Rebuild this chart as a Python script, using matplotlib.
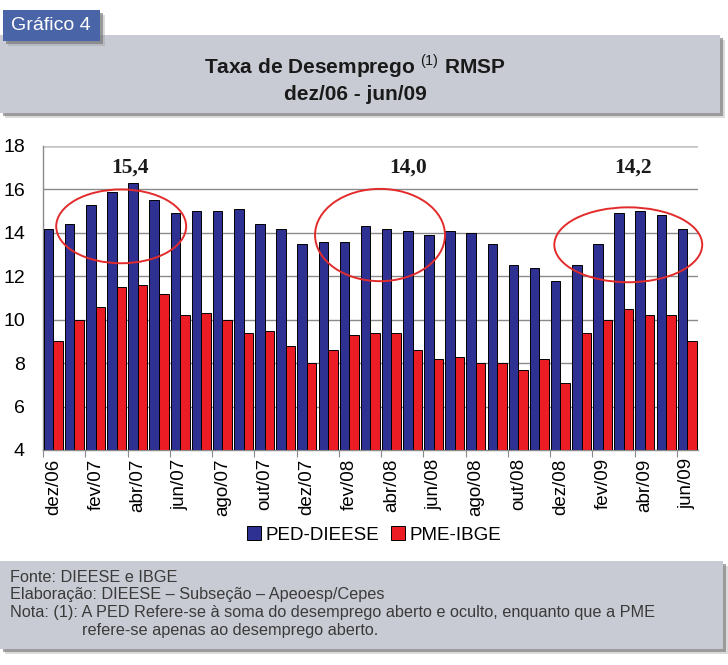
import matplotlib
matplotlib.use("Agg")
import matplotlib.pyplot as plt
from matplotlib.patches import Rectangle, Ellipse
import numpy as np

months = ["dez/06", "jan/07", "fev/07", "mar/07", "abr/07", "mai/07", "jun/07", "jul/07",
          "ago/07", "set/07", "out/07", "nov/07", "dez/07", "jan/08", "fev/08", "mar/08",
          "abr/08", "mai/08", "jun/08", "jul/08", "ago/08", "set/08", "out/08", "nov/08",
          "dez/08", "jan/09", "fev/09", "mar/09", "abr/09", "mai/09", "jun/09"]
ped_dieese = [14.2, 14.4, 15.3, 15.9, 16.3, 15.5, 14.9, 15.0, 15.0, 15.1, 14.4, 14.2, 13.5,
              13.6, 13.6, 14.3, 14.2, 14.1, 13.9, 14.1, 14.0, 13.5, 12.5, 12.4, 11.8, 12.5,
              13.5, 14.9, 15.0, 14.8, 14.2]
pme_ibge = [9.0, 10.0, 10.6, 11.5, 11.6, 11.2, 10.2, 10.3, 10.0, 9.4, 9.5, 8.8, 8.0, 8.6,
            9.3, 9.4, 9.4, 8.6, 8.2, 8.3, 8.0, 8.0, 7.7, 8.2, 7.1, 9.4, 10.0, 10.5, 10.2,
            10.2, 9.0]
series_names = ["PED-DIEESE", "PME-IBGE"]
highlight_labels = ["15,4", "14,0", "14,2"]
highlight_x = [3.6, 16.8, 27.4]
ellipse_x = [3.2, 15.45, 27.2]
ellipse_y = [14.3, 13.9, 13.45]
ellipse_w = [6.15, 6.15, 7.0]
ellipse_h = [3.4, 4.25, 3.45]

plt.rcParams["mathtext.fontset"] = "custom"
plt.rcParams["mathtext.rm"] = "Liberation Sans"
plt.rcParams["mathtext.bf"] = "Liberation Sans:bold"

W, H = 728, 665
fig = plt.figure(figsize=(W / 100, H / 100), dpi=100)
fig.patch.set_facecolor("white")

def fx(x):
    return x / W

def fy(y):
    return 1 - y / H

def rect_px(x0, y0, x1, y1, **kw):
    r = Rectangle((fx(x0), fy(y1)), fx(x1) - fx(x0), fy(y0) - fy(y1),
                  transform=fig.transFigure, **kw)
    fig.patches.append(r)
    return r

panel = "#c8cbd3"
shadows = [(5, "#9a9a9a", 0.35), (3, "#6f6f6f", 0.6)]
# header panel with shadow
for off, c, a in shadows:
    rect_px(0 + off, 35 + off, 720 + off, 113 + off, facecolor=c, edgecolor="none", alpha=a, zorder=0)
rect_px(0, 35, 720, 113, facecolor=panel, edgecolor="none", zorder=1)
# tab
for off, c, a in shadows:
    rect_px(3 + off, 10 + off, 100 + off, 41 + off, facecolor=c, edgecolor="none", alpha=a, zorder=2)
rect_px(3, 10, 100, 41, facecolor="#4a64a8", edgecolor="none", zorder=3)
fig.text(fx(51), fy(26), "Gráfico 4", color="white", fontsize=14, ha="center", va="center",
         family=["Liberation Sans", "DejaVu Sans"], zorder=4)

# footer panel with shadow
for off, c, a in shadows:
    rect_px(0 + off, 561 + off, 723 + off, 649 + off, facecolor=c, edgecolor="none", alpha=a, zorder=0)
rect_px(0, 561, 723, 649, facecolor=panel, edgecolor="none", zorder=1)

# title
title_font = ["Liberation Sans", "DejaVu Sans"]
fig.text(fx(355), fy(66), r"Taxa de Desemprego $^{\mathrm{(1)}}$ RMSP", fontsize=15, fontweight="bold",
         ha="center", va="center", family=title_font, color="#1a1a1a", zorder=4)
fig.text(fx(355), fy(94), "dez/06 - jun/09", fontsize=15, fontweight="bold",
         ha="center", va="center", family=title_font, color="#1a1a1a", zorder=4)

# footer text
foot_font = ["Liberation Sans", "DejaVu Sans"]
fc = "#3a3a3a"
fs = 11.7
fig.text(fx(10), fy(577), "Fonte: DIEESE e IBGE", fontsize=fs, ha="left", va="center", family=foot_font, color=fc)
fig.text(fx(10), fy(595), "Elaboração: DIEESE – Subseção – Apeoesp/Cepes", fontsize=fs, ha="left", va="center", family=foot_font, color=fc)
fig.text(fx(10), fy(613), "Nota: (1): A PED Refere-se à soma do desemprego aberto e oculto, enquanto que a PME",
         fontsize=fs, ha="left", va="center", family=foot_font, color=fc)
fig.text(fx(82), fy(631), "refere-se apenas ao desemprego aberto.", fontsize=fs, ha="left", va="center",
         family=foot_font, color=fc)

# chart axes
ax = fig.add_axes([fx(43), fy(450), fx(698) - fx(43), fy(146) - fy(450)])
ax.set_facecolor("none")
x = np.arange(len(months))
bw = 0.45
blue = "#2e3192"
red = "#ec1c24"
b1 = ax.bar(x - bw / 2 - 0.01, ped_dieese, width=bw, color=blue, edgecolor="black", linewidth=0.7,
            zorder=3, label=series_names[0])
b2 = ax.bar(x + bw / 2 - 0.01, pme_ibge, width=bw, color=red, edgecolor="black", linewidth=0.7,
            zorder=3, label=series_names[1])
ax.set_xlim(-0.5, len(months) - 0.5)
ax.set_ylim(4, 18)
ax.set_yticks(np.arange(4, 19, 2))
for v in np.arange(6, 17, 2):
    ax.axhline(v, color="#8a8a8a", linewidth=1.0, zorder=1)
ax.axhline(18, color="#c4c4c4", linewidth=1.8, zorder=1)

for s in ["top", "right"]:
    ax.spines[s].set_visible(False)
ax.spines["left"].set_color("#8a8a8a")
ax.spines["bottom"].set_color("#8a8a8a")
ax.spines["left"].set_linewidth(1.0)
ax.spines["bottom"].set_linewidth(1.0)

ax.set_xticks(np.arange(-0.5, len(months), 2))
ax.set_xticklabels([])
ax.tick_params(axis="x", which="major", length=5, color="#8a8a8a", direction="out")
ax.set_xticks(x[::2], minor=True)
ax.set_xticklabels(months[::2], minor=True, rotation=90, fontsize=13.5,
                   family=["Liberation Sans", "DejaVu Sans"])
ax.tick_params(axis="x", which="minor", length=0, pad=6)
ax.tick_params(axis="y", length=0, pad=13, labelsize=14)
for t in ax.get_yticklabels():
    t.set_family(["Liberation Sans", "DejaVu Sans"])

for ex, ey, ew, eh in zip(ellipse_x, ellipse_y, ellipse_w, ellipse_h):
    ax.add_patch(Ellipse((ex, ey), ew, eh, facecolor="none", edgecolor="#e32b2b", linewidth=1.4,
                         zorder=5, clip_on=False))
for lx, lab in zip(highlight_x, highlight_labels):
    ax.text(lx, 17.0, lab, fontsize=15.5, fontweight="bold", ha="center", va="center",
            family=["Liberation Serif", "DejaVu Serif"], color="#1a1a1a", zorder=6)

leg = fig.legend(handles=[b1, b2], labels=series_names, loc="center", bbox_to_anchor=(fx(374), fy(535)),
                 ncol=2, frameon=False, handlelength=0.75, handleheight=0.75, handletextpad=0.25,
                 columnspacing=0.6, prop={"family": ["Liberation Sans", "DejaVu Sans"], "size": 13.5})

fig.savefig("out.png", dpi=100)
